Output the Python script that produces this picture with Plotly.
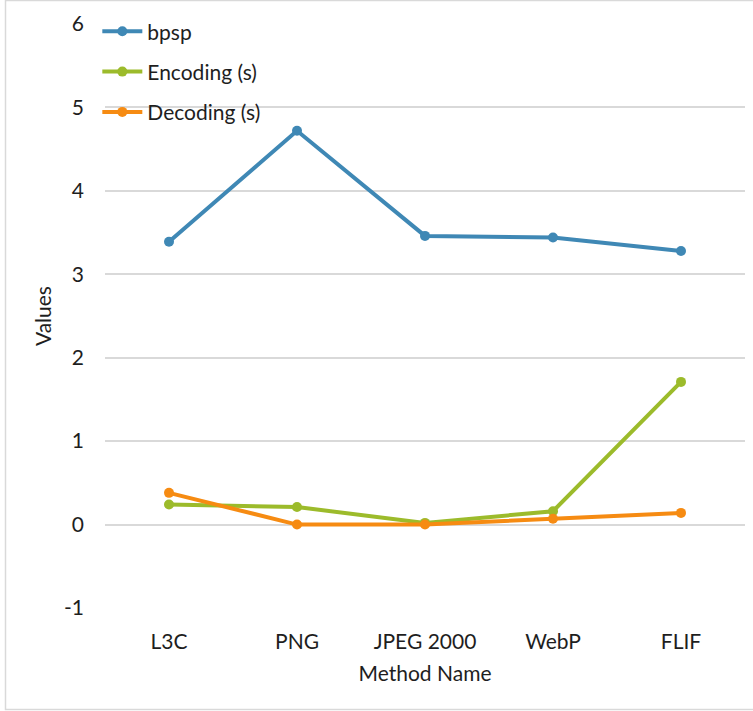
import plotly.graph_objects as go

# Compression methods compared
methods = ["L3C", "PNG", "JPEG 2000", "WebP", "FLIF"]

# Bits per sub-pixel for each method
bpsp = [3.39, 4.72, 3.46, 3.44, 3.28]
# Encoding time in seconds
encoding_s = [0.24, 0.21, 0.02, 0.16, 1.71]
# Decoding time in seconds
decoding_s = [0.38, 0.00, 0.00, 0.07, 0.14]

y_ticks = [-1, 0, 1, 2, 3, 4, 5, 6]
y_tick_text = ["-1", "0", "1", "2", "3", "4", "5", "6"]

series = [
    ("bpsp", bpsp, "#3F88B5"),
    ("Encoding (s)", encoding_s, "#9CBB2B"),
    ("Decoding (s)", decoding_s, "#F68B12"),
]

FONT = "Lato"
FS = 21
TEXT = "#1e1e1e"

fig = go.Figure()
for i, (name, vals, color) in enumerate(series):
    fig.add_trace(go.Scatter(
        x=methods, y=vals, name=name, mode="lines+markers",
        line=dict(color=color, width=4),
        marker=dict(color=color, size=10),
        legendgroup=f"g{i}",
        cliponaxis=False,
    ))

W, H = 753, 711
L, R, T, B = 105, 8, 24, 103
pw, ph = W - L - R, H - T - B

fig.update_layout(
    width=W, height=H,
    margin=dict(l=L, r=R, t=T, b=B),
    paper_bgcolor="white", plot_bgcolor="white",
    font=dict(family=FONT, size=FS, color=TEXT),
    showlegend=True,
    legend=dict(
        x=-0.012, y=1.022, xanchor="left", yanchor="top",
        bgcolor="rgba(0,0,0,0)",
        font=dict(family=FONT, size=FS, color=TEXT),
        traceorder="grouped", tracegroupgap=10,
        itemwidth=40,
    ),
    xaxis=dict(
        type="category", range=[-0.5, 4.5],
        showgrid=False, zeroline=False, showline=False, ticks="",
        ticklabelstandoff=19,
        tickfont=dict(family=FONT, size=FS, color=TEXT),
        title=dict(text="Method Name", standoff=14,
                   font=dict(family=FONT, size=FS, color=TEXT)),
    ),
    yaxis=dict(
        range=[-1, 6], tickmode="array", tickvals=y_ticks,
        ticktext=y_tick_text,
        showgrid=True, gridcolor="#d9d9d9", gridwidth=1.5,
        zeroline=False, showline=False, ticks="",
        ticklabelstandoff=20,
        tickfont=dict(family=FONT, size=FS, color=TEXT),
        title=dict(text="Values", standoff=6,
                   font=dict(family=FONT, size=FS, color=TEXT)),
    ),
)

# Light outer frame around the chart area
fig.add_shape(
    type="rect", xref="paper", yref="paper",
    x0=(5.5 - L) / pw, x1=(W + 5 - L) / pw,
    y0=-(709.5 - T - ph) / ph, y1=1 + (T - 0.5) / ph,
    line=dict(color="#d9d9d9", width=1.5), fillcolor="rgba(0,0,0,0)",
    layer="below",
)

fig.write_html("out.html")
